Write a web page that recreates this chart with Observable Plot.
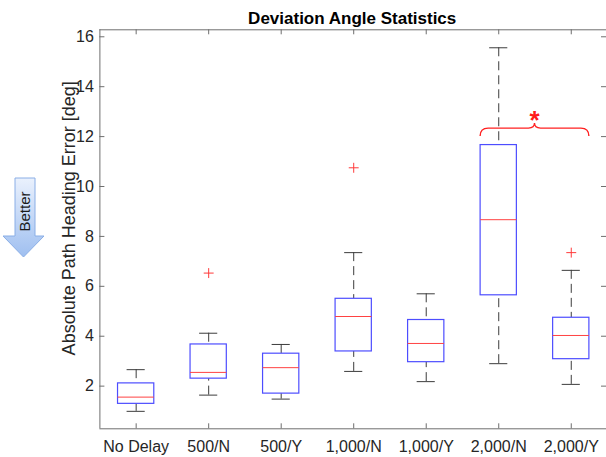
<!DOCTYPE html>
<html>
<head>
<meta charset="utf-8">
<script src="https://cdn.jsdelivr.net/npm/d3@7"></script>
<script src="https://cdn.jsdelivr.net/npm/@observablehq/plot@0.6"></script>
<style>
  html, body { margin: 0; padding: 0; background: #fff; }
  svg { display: block; }
</style>
</head>
<body>
<div id="chart"></div>
<script>
// Delay / prediction conditions
const categories = ["No Delay", "500/N", "500/Y", "1,000/N", "1,000/Y", "2,000/N", "2,000/Y"];
// Box-plot statistics (deg)
const whiskerLow  = [0.99, 1.64, 1.48, 2.59, 2.18, 2.90, 2.07];
const quartile1   = [1.29, 2.30, 1.70, 3.39, 2.96, 5.64, 3.08];
const medians     = [1.56, 2.55, 2.74, 4.79, 3.71, 8.67, 4.03];
const quartile3   = [2.11, 3.67, 3.30, 5.50, 4.65, 11.66, 4.74];
const whiskerHigh = [2.66, 4.12, 3.67, 7.35, 5.70, 15.56, 6.64];
// Outliers
const outlierGroups = ["500/N", "1,000/N", "2,000/Y"];
const outlierValues = [6.53, 10.75, 7.35];
// Axis ticks
const yTicks = [2, 4, 6, 8, 10, 12, 14, 16];
// Significance bracket
const braceFrom = "2,000/N";
const braceTo = "2,000/Y";
const braceLevel = 12;
const braceMark = "*";

const titleText = "Deviation Angle Statistics";
const yLabel = "Absolute Path Heading Error [deg]";
const arrowText = "Better";

const boxes = categories.map((c, k) => ({
  name: c, i: k + 1,
  lo: whiskerLow[k], q1: quartile1[k], med: medians[k], q3: quartile3[k], hi: whiskerHigh[k]
}));
const outliers = outlierGroups.map((g, k) => ({i: categories.indexOf(g) + 1, v: outlierValues[k]}));

const W = 606, H = 457;
const mL = 99.4, mR = 0, mT = 29.3, mB = 28.7;
const plotW = W - mL - mR, plotH = H - mT - mB;
const xDomain = [0.5, 7.486];
const yDomain = [0.29, 16.28];
const catIdx = categories.map((c, k) => k + 1);

const frameColor = "#6e6e6e";
const textColor = "#262626";
const boxBlue = "#4d4dff";
const medRed = "#ff4242";
const whiskerColor = "#3c3c3c";

const chart = Plot.plot({
  width: W, height: H,
  marginLeft: mL, marginRight: mR, marginTop: mT, marginBottom: mB,
  x: {type: "linear", domain: xDomain, axis: null},
  y: {type: "linear", domain: yDomain, axis: null},
  style: {fontFamily: "'Liberation Sans', Arial, sans-serif", background: "#fff", overflow: "visible"},
  marks: [
    // axes box (top, left, bottom)
    Plot.ruleY([yDomain[0], yDomain[1]], {stroke: frameColor, strokeWidth: 1}),
    Plot.ruleX([xDomain[0]], {stroke: frameColor, strokeWidth: 1}),
    // inward tick marks
    Plot.ruleY(yTicks, {insetRight: plotW - 5, stroke: frameColor}),
    Plot.ruleY(yTicks, {insetLeft: plotW - 5, stroke: frameColor}),
    Plot.ruleX(catIdx, {insetBottom: plotH - 5, stroke: frameColor}),
    Plot.ruleX(catIdx, {insetTop: plotH - 5, stroke: frameColor}),
    // tick labels
    Plot.axisY(yTicks, {tickSize: 0, tickPadding: 6, fontSize: 16, fill: textColor, label: null}),
    Plot.axisX(catIdx, {tickSize: 0, tickPadding: 12, fontSize: 16, fill: textColor, label: null,
      tickFormat: i => categories[i - 1]}),
    // y label
    Plot.text([yLabel], {frameAnchor: "left", textAnchor: "middle", lineAnchor: "middle",
      rotate: -90, dx: -31, dy: -11, fontSize: 18, fill: textColor, text: d => d}),
    // title
    Plot.text([titleText], {frameAnchor: "top", dy: -6, lineAnchor: "bottom", fontSize: 17,
      fontWeight: "bold", fill: "#000", text: d => d, dx: -1}),
    // whiskers
    Plot.ruleX(boxes, {x: "i", y1: "hi", y2: "q3", stroke: whiskerColor, strokeDasharray: "9,5"}),
    Plot.ruleX(boxes, {x: "i", y1: "lo", y2: "q1", stroke: whiskerColor, strokeDasharray: "9,5"}),
    Plot.ruleY(boxes, {y: "hi", x1: d => d.i - 0.125, x2: d => d.i + 0.125, stroke: whiskerColor}),
    Plot.ruleY(boxes, {y: "lo", x1: d => d.i - 0.125, x2: d => d.i + 0.125, stroke: whiskerColor}),
    // boxes and medians
    Plot.rect(boxes, {x1: d => d.i - 0.25, x2: d => d.i + 0.25, y1: "q1", y2: "q3",
      fill: "#fff", stroke: boxBlue, strokeWidth: 1.2}),
    Plot.ruleY(boxes, {y: "med", x1: d => d.i - 0.25, x2: d => d.i + 0.25, stroke: medRed}),
    // outliers
    Plot.dot(outliers, {x: "i", y: "v", symbol: "plus", r: 3.3, stroke: "#ff3a3a", strokeWidth: 1})
  ]
});

document.getElementById("chart").appendChild(chart);

// significance bracket drawn with the chart's scales
const sx = chart.scale("x"), sy = chart.scale("y");
const svg = d3.select(chart);
const xa = sx.apply(categories.indexOf(braceFrom) + 1 - 0.25);
const xb = sx.apply(categories.indexOf(braceTo) + 1 + 0.25);
const xm = (xa + xb) / 2;
const y0 = sy.apply(braceLevel), yb = y0 - 8, yc = yb - 5, r = 8;
svg.append("path")
  .attr("d", `M${xa},${y0} Q${xa},${yb} ${xa + r},${yb} L${xm - 6},${yb} Q${xm},${yb} ${xm},${yc}` +
             ` Q${xm},${yb} ${xm + 6},${yb} L${xb - r},${yb} Q${xb},${yb} ${xb},${y0}`)
  .attr("fill", "none").attr("stroke", "#ff2020").attr("stroke-width", 1.4);
svg.append("text")
  .attr("x", xm).attr("y", yc + 6)
  .attr("text-anchor", "middle")
  .attr("font-size", 26).attr("font-weight", "bold")
  .attr("font-family", "'Liberation Sans', Arial, sans-serif")
  .attr("fill", "#ff1a1a").text(braceMark);

// "Better" direction arrow
const defs = svg.append("defs");
const grad = defs.append("linearGradient").attr("id", "arrowFill")
  .attr("x1", 0).attr("y1", 0).attr("x2", 0).attr("y2", 1);
grad.append("stop").attr("offset", "0%").attr("stop-color", "#eaf1fd");
grad.append("stop").attr("offset", "100%").attr("stop-color", "#9fbff0");
svg.append("path")
  .attr("d", "M15,178 L35,178 L35,236 L44,236 L23.5,257 L3,236 L15,236 Z")
  .attr("fill", "url(#arrowFill)").attr("stroke", "#8aaee6").attr("stroke-width", 1);
svg.append("text")
  .attr("transform", "translate(30,211.5) rotate(-90)")
  .attr("text-anchor", "middle")
  .attr("font-size", 15)
  .attr("font-family", "'Liberation Sans', Arial, sans-serif")
  .attr("fill", "#1a1a1a").text(arrowText);
</script>
</body>
</html>
